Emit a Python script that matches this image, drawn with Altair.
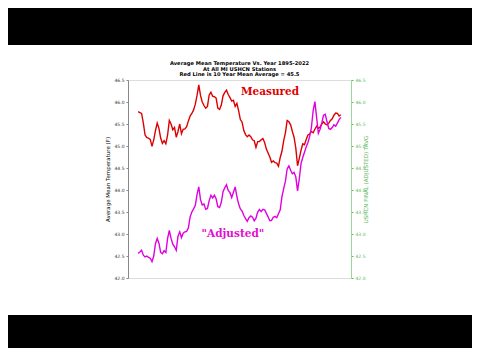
import altair as alt
import pandas as pd

years = list(range(1900, 2018))

measured = [
    45.78, 45.76, 45.74, 45.52, 45.25, 45.19, 45.18, 45.15, 44.99, 45.14,  # 1900s
    45.35, 45.52, 45.40, 45.18, 45.06, 45.12, 45.05, 45.25, 45.58, 45.50,  # 1910s
    45.37, 45.42, 45.20, 45.33, 45.50, 45.28, 45.38, 45.39, 45.44, 45.57,  # 1920s
    45.68, 45.74, 45.82, 45.95, 46.15, 46.39, 46.15, 46.00, 45.92, 45.86,  # 1930s
    45.90, 46.16, 46.22, 46.13, 46.12, 46.09, 45.86, 45.83, 45.93, 46.14,  # 1940s
    46.22, 46.27, 46.17, 46.10, 46.02, 46.04, 45.90, 45.97, 45.80, 45.60,  # 1950s
    45.54, 45.35, 45.26, 45.21, 45.25, 45.21, 45.14, 45.12, 44.97, 45.10,  # 1960s
    45.10, 45.14, 45.17, 45.08, 44.93, 44.84, 44.75, 44.63, 44.66, 44.62,  # 1970s
    44.61, 44.54, 44.74, 44.88, 45.12, 45.30, 45.58, 45.55, 45.48, 45.33,  # 1980s
    45.20, 44.95, 44.55, 44.72, 44.90, 45.05, 45.03, 45.15, 45.25, 45.27,  # 1990s
    45.33, 45.30, 45.38, 45.45, 45.40, 45.43, 45.50, 45.55, 45.50, 45.48,  # 2000s
    45.52, 45.58, 45.62, 45.70, 45.75, 45.74, 45.68, 45.71,                # 2010s
]

adjusted = [
    42.56, 42.59, 42.63, 42.52, 42.48, 42.50, 42.47, 42.45, 42.37, 42.50,  # 1900s
    42.78, 42.90, 42.79, 42.58, 42.55, 42.62, 42.58, 42.90, 43.08, 42.90,  # 1910s
    42.77, 42.71, 42.63, 42.95, 43.05, 42.92, 43.02, 43.05, 43.06, 43.14,  # 1920s
    43.39, 43.50, 43.57, 43.65, 43.90, 44.07, 43.78, 43.66, 43.68, 43.56,  # 1930s
    43.58, 43.76, 43.88, 43.82, 43.88, 43.80, 43.62, 43.60, 43.72, 43.96,  # 1940s
    44.05, 44.12, 43.99, 43.94, 43.83, 43.95, 44.07, 43.85, 43.68, 43.57,  # 1950s
    43.52, 43.42, 43.35, 43.29, 43.37, 43.41, 43.38, 43.30, 43.36, 43.50,  # 1960s
    43.56, 43.51, 43.56, 43.55, 43.47, 43.39, 43.30, 43.31, 43.38, 43.40,  # 1970s
    43.37, 43.46, 43.55, 43.85, 44.03, 44.20, 44.48, 44.55, 44.45, 44.37,  # 1980s
    44.40, 44.30, 43.98, 44.25, 44.60, 44.74, 44.86, 44.98, 45.08, 45.22,  # 1990s
    45.42, 45.80, 46.01, 45.65, 45.29, 45.38, 45.52, 45.70, 45.72, 45.55,  # 2000s
    45.40, 45.38, 45.42, 45.48, 45.45, 45.52, 45.60, 45.65,                # 2010s
]

x_ticks = [1900, 1920, 1940, 1960, 1980, 2000, 2020]
y_ticks = [42.0, 42.5, 43.0, 43.5, 44.0, 44.5, 45.0, 45.5, 46.0, 46.5]

title_lines = [
    "Average Mean Temperature Vs. Year 1895-2022",
    "At All MI USHCN Stations",
    "Red Line is 10 Year Mean  Average = 45.5",
]

ann_text = ["Measured", "\"Adjusted\""]
ann_year = [1976.1, 1954.7]
ann_value = [46.22, 43.0]
ann_color = ["#e00000", "#e010d0"]

df = pd.DataFrame({"Year": years, "Measured": measured, "Adjusted": adjusted})
ann = pd.DataFrame({"Year": ann_year, "Value": ann_value, "Text": ann_text, "Color": ann_color})

XDOM = [1894.15, 2022.85]
YDOM = [42.0, 46.5]
GREEN = "#5cb85c"
one = pd.DataFrame({"a": [0]})

xenc = alt.X(
    "Year:Q",
    scale=alt.Scale(domain=XDOM, nice=False, zero=False),
    axis=alt.Axis(values=x_ticks, format="d", title="Year", labelFontSize=4.5,
                  titleFontSize=5.5, titleFontWeight="normal", tickSize=2,
                  labelPadding=2, titlePadding=2, domainColor="#888888",
                  tickColor="#888888", labelColor="#333333", grid=False, zindex=1),
)

# black letterbox bands above and below the picture
band_top = alt.Chart(one).mark_rect(color="black").encode(
    x=alt.value(-120), x2=alt.value(344), y=alt.value(-72), y2=alt.value(-35)
)
band_bot = alt.Chart(one).mark_rect(color="black").encode(
    x=alt.value(-120), x2=alt.value(344), y=alt.value(235), y2=alt.value(268)
)

# three-line title drawn as text
title_y = [-16.8, -11.3, -6.0]
title_marks = [
    alt.Chart(one).mark_text(font="DejaVu Sans", fontWeight="bold", fontSize=5.2,
                             color="black", baseline="middle", align="center").encode(
        x=alt.value(111.5), y=alt.value(ty), text=alt.value(line)
    )
    for line, ty in zip(title_lines, title_y)
]

red = alt.Chart(df).mark_line(color="#dd0000", strokeWidth=1.4).encode(
    x=xenc,
    y=alt.Y("Measured:Q", scale=alt.Scale(domain=YDOM, nice=False, zero=False),
            axis=alt.Axis(values=y_ticks, format=".1f", title="Average Mean Temperature (F)",
                          labelFontSize=4.5, titleFontSize=5.5, titleFontWeight="normal",
                          tickSize=2, labelPadding=2, titlePadding=3,
                          domainColor="#888888", tickColor="#888888",
                          labelColor="#333333", grid=False, zindex=1)),
)

mag = alt.Chart(df).mark_line(color="#e000e0", strokeWidth=1.4).encode(
    x=alt.X("Year:Q", scale=alt.Scale(domain=XDOM, nice=False, zero=False), axis=None),
    y=alt.Y("Adjusted:Q", scale=alt.Scale(domain=YDOM, nice=False, zero=False),
            axis=alt.Axis(orient="right", values=y_ticks, format=".1f",
                          title="USHCN FINAL (ADJUSTED) TAVG", titleAngle=270,
                          labelFontSize=4.5, titleFontSize=5.5, titleFontWeight="normal",
                          tickSize=2, labelPadding=2, titlePadding=3,
                          domainColor="#9ed49e", tickColor=GREEN,
                          labelColor=GREEN, titleColor=GREEN, grid=False, zindex=1)),
)

texts = alt.Chart(ann).mark_text(font="DejaVu Serif", fontWeight="bold", fontSize=10.5).encode(
    x=alt.X("Year:Q", scale=alt.Scale(domain=XDOM, nice=False, zero=False), axis=None),
    y=alt.Y("Value:Q", scale=alt.Scale(domain=YDOM, nice=False, zero=False), axis=None),
    text="Text:N",
    color=alt.Color("Color:N", scale=None),
)

chart = (
    alt.layer(band_top, band_bot, *title_marks, red, mag, texts)
    .resolve_scale(y="independent")
    .properties(
        width=223,
        height=198,
        background="white",
        padding={"left": 120, "top": 72, "right": 121, "bottom": 70},
        autosize=alt.AutoSizeParams(type="none"),
    )
    .configure_view(stroke="#888888", strokeWidth=1)
    .configure(font="DejaVu Sans")
)

chart.save("out.html", embed_options={"renderer": "svg", "actions": False})
